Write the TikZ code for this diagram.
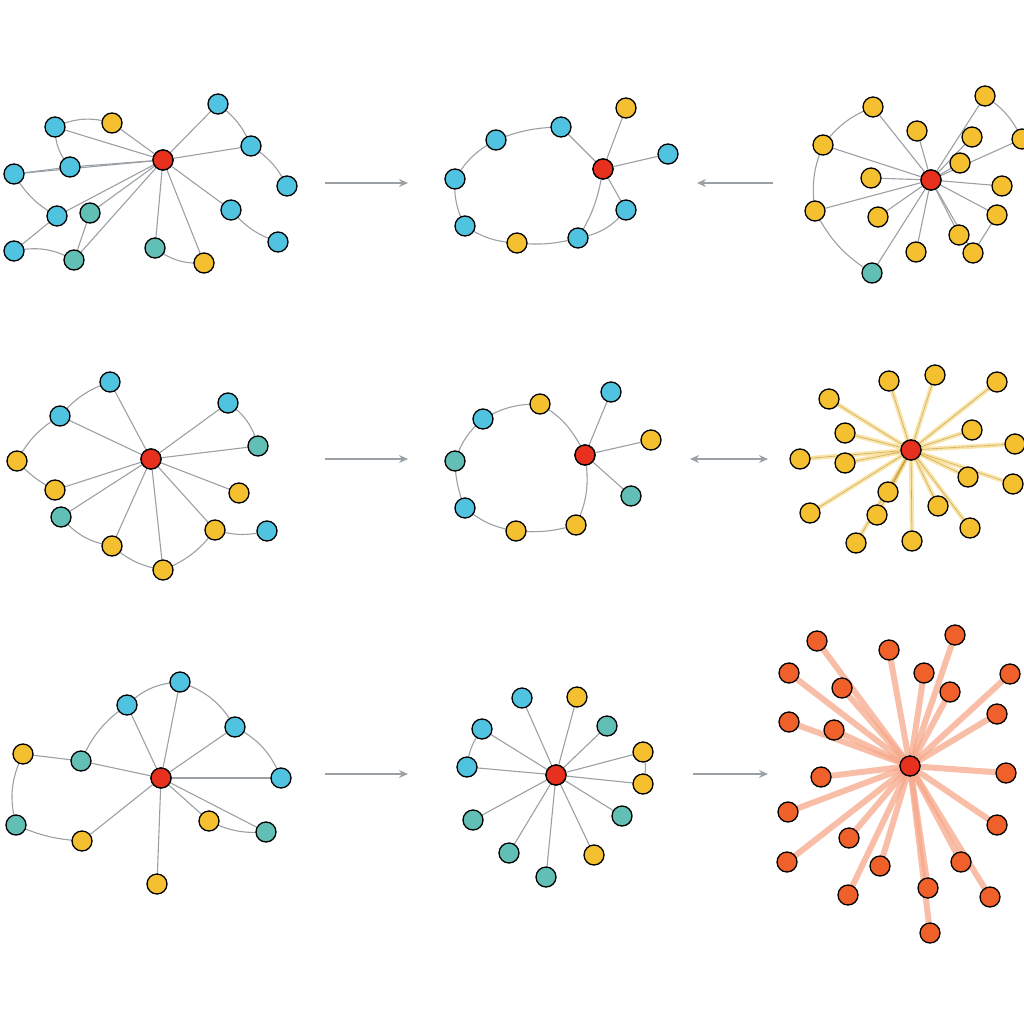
\documentclass[tikz,border=0pt]{standalone}
\usetikzlibrary{arrows.meta}
\definecolor{cb}{HTML}{4FC3E0}
\definecolor{cy}{HTML}{F5C030}
\definecolor{ct}{HTML}{62BFB5}
\definecolor{cr}{HTML}{E8301E}
\definecolor{co}{HTML}{F0602A}
\definecolor{ce}{HTML}{9AA0A4}
\tikzset{dot/.style={circle,draw=black,line width=1.3pt,minimum size=20pt,inner sep=0pt},
 hub/.style={dot,fill=cr},
 ed/.style={draw=ce,line width=1.1pt},
 tan/.style={draw=cy!60!white,line width=4.5pt,opacity=0.7},
 thk/.style={draw=co!55!white,line width=6pt,opacity=0.75},
 arr/.style={draw=ce,line width=1.2pt,-{Stealth[length=9pt,width=8pt]}},
 darr/.style={draw=ce,line width=1.2pt,{Stealth[length=9pt,width=8pt]}-{Stealth[length=9pt,width=8pt]}}}
\begin{document}
\begin{tikzpicture}[x=1pt,y=-1pt]
\useasboundingbox (0,0) rectangle (1024,1024);
% ---- panel 1
\node[hub] (c1) at (163,160) {};
\foreach \x/\y [count=\i] in {55/127,112/123,218/104,70/167,14/174,251/146,287/186,57/216,90/213,231/210,278/242,14/251,74/260,155/248,204/263}
 {\coordinate (a\i) at (\x,\y);}
\foreach \i in {1,2,3,4,5,6,8,9,10,13,14,15} {\draw[ed] (c1) -- (a\i);}
\draw[ed] (a1) to[bend right=20] (a4); \draw[ed] (a4) -- (a5); \draw[ed] (a5) to[bend right=15] (a8);
\draw[ed] (a8) -- (a12); \draw[ed] (a12) to[bend left=20] (a13); \draw[ed] (a9) -- (a13);
\draw[ed] (a3) to[bend left=15] (a6); \draw[ed] (a6) to[bend left=15] (a7); \draw[ed] (a10) to[bend right=15] (a11);
\draw[ed] (a14) to[bend right=20] (a15); \draw[ed] (a1) to[bend left=20] (a2);
\foreach \i/\c in {1/cb,2/cy,3/cb,4/cb,5/cb,6/cb,7/cb,8/cb,9/ct,10/cb,11/cb,12/cb,13/ct,14/ct,15/cy}
 {\node[dot,fill=\c] (an\i) at (a\i) {};}
\node[hub] at (c1) {};
\draw[arr] (325,183) -- (408,183);
% ---- panel 2
\foreach \x/\y [count=\i] in {455/179,496/140,561/127,626/108,668/154,626/210,578/238,517/243,465/226}
 {\coordinate (b\i) at (\x,\y);}
\node[hub] (c2) at (603,169) {};
\draw[ed] (b1) to[bend left=15] (b2); \draw[ed] (b2) to[bend left=10] (b3);
\draw[ed] (b1) to[bend right=15] (b9); \draw[ed] (b9) to[bend right=15] (b8); \draw[ed] (b8) to[bend right=10] (b7);
\draw[ed] (b7) to[bend right=20] (b6);
\foreach \i in {3,4,5,6} {\draw[ed] (c2) -- (b\i);}
\draw[ed] (c2) to[bend left=10] (b7);
\foreach \i/\c in {1/cb,2/cb,3/cb,4/cy,5/cb,6/cb,7/cb,8/cy,9/cb} {\node[dot,fill=\c] (bn\i) at (b\i) {};}
\node[hub] at (c2) {};
\draw[arr] (773,183) -- (697,183);
% ---- panel 3
\node[hub] (c3) at (931,180) {};
\foreach \x/\y [count=\i] in {873/107,985/96,917/131,972/137,1022/139,823/145,960/163,871/178,1002/186,815/211,878/217,997/215,959/235,916/252,973/253,872/273}
 {\coordinate (d\i) at (\x,\y); \draw[ed] (c3) -- (d\i);}
\draw[ed] (d1) to[bend right=15] (d6); \draw[ed] (d6) to[bend right=15] (d10); \draw[ed] (d10) to[bend right=15] (d16);
\draw[ed] (d2) to[bend left=15] (d5); \draw[ed] (d12) -- (d15);
\foreach \i in {1,...,15} {\node[dot,fill=cy] (dn\i) at (d\i) {};}
\node[dot,fill=ct] (dn16) at (d16) {};
\node[hub] at (c3) {};
% ---- panel 4
\node[hub] (c4) at (151,459) {};
\foreach \x/\y [count=\i] in {110/382,60/416,228/403,258/446,17/461,239/493,55/490,61/517,215/530,267/531,112/546,163/570}
 {\coordinate (e\i) at (\x,\y);}
\foreach \i in {1,2,3,4,6,7,8,9,11,12} {\draw[ed] (c4) -- (e\i);}
\draw[ed] (e2) to[bend left=15] (e1); \draw[ed] (e2) to[bend right=15] (e5); \draw[ed] (e5) to[bend right=10] (e7);
\draw[ed] (e8) to[bend right=20] (e11); \draw[ed] (e11) to[bend right=15] (e12); \draw[ed] (e3) to[bend left=20] (e4);
\draw[ed] (e9) to[bend right=15] (e10); \draw[ed] (e12) to[bend right=15] (e9);
\foreach \i/\c in {1/cb,2/cb,3/cb,4/ct,5/cy,6/cy,7/cy,8/ct,9/cy,10/cb,11/cy,12/cy} {\node[dot,fill=\c] (en\i) at (e\i) {};}
\node[hub] at (c4) {};
\draw[arr] (325,459) -- (408,459);
% ---- panel 5
\node[hub] (c5) at (585,455) {};
\foreach \x/\y [count=\i] in {483/419,540/404,611/392,651/440,455/461,631/496,465/508,516/531,576/525}
 {\coordinate (f\i) at (\x,\y);}
\draw[ed] (f1) to[bend left=15] (f2); \draw[ed] (f2) to[bend left=15] (c5); \draw[ed] (f1) to[bend right=15] (f5);
\draw[ed] (f5) to[bend right=10] (f7); \draw[ed] (f7) to[bend right=15] (f8); \draw[ed] (f8) to[bend right=10] (f9);
\draw[ed] (f9) to[bend right=15] (c5);
\foreach \i in {3,4,6} {\draw[ed] (c5) -- (f\i);}
\foreach \i/\c in {1/cb,2/cy,3/cb,4/cy,5/ct,6/ct,7/cb,8/cy,9/cy} {\node[dot,fill=\c] (fn\i) at (f\i) {};}
\node[hub] at (c5) {};
\draw[darr] (690,459) -- (768,459);
% ---- panel 6
\node[hub] (c6) at (911,450) {};
\foreach \x/\y [count=\i] in {889/381,935/375,997/382,829/399,845/433,972/430,1015/444,800/459,845/463,1013/484,968/477,888/492,938/506,810/513,877/515,970/528,856/543,912/541}
 {\coordinate (g\i) at (\x,\y); \draw[tan] (c6) -- (g\i);}
\foreach \i in {1,...,18} {\draw[draw=cy!60!black,line width=0.6pt,opacity=0.5] (c6) -- (g\i);}
\foreach \i in {1,...,18} {\node[dot,fill=cy] (gn\i) at (g\i) {};}
\node[hub] at (c6) {};
% ---- panel 7
\node[hub] (c7) at (161,778) {};
\foreach \x/\y [count=\i] in {180/682,127/705,235/727,81/761,23/754,281/778,16/825,82/841,209/821,266/832,157/884}
 {\coordinate (h\i) at (\x,\y);}
\foreach \i in {1,2,3,4,6,8,9,10,11} {\draw[ed] (c7) -- (h\i);}
\draw[ed] (h2) to[bend left=20] (h1); \draw[ed] (h2) to[bend right=15] (h4); \draw[ed] (h4) -- (h5);
\draw[ed] (h5) to[bend right=20] (h7); \draw[ed] (h7) to[bend right=10] (h8); \draw[ed] (h1) to[bend left=20] (h3);
\draw[ed] (h3) to[bend left=20] (h6); \draw[ed] (h9) to[bend right=15] (h10);
\foreach \i/\c in {1/cb,2/cb,3/cb,4/ct,5/cy,6/cb,7/ct,8/cy,9/cy,10/ct,11/cy} {\node[dot,fill=\c] (hn\i) at (h\i) {};}
\node[hub] at (c7) {};
\draw[arr] (325,774) -- (408,774);
% ---- panel 8
\node[hub] (c8) at (556,775) {};
\foreach \x/\y [count=\i] in {522/698,577/697,482/729,607/726,643/752,467/767,643/784,473/820,622/816,509/853,594/855,546/877}
 {\coordinate (k\i) at (\x,\y); \draw[ed] (c8) -- (k\i);}
\draw[ed] (k3) to[bend right=15] (k6); \draw[ed] (k5) to[bend left=15] (k7);
\foreach \i/\c in {1/cb,2/cy,3/cb,4/ct,5/cy,6/cb,7/cy,8/ct,9/ct,10/ct,11/cy,12/ct} {\node[dot,fill=\c] (kn\i) at (k\i) {};}
\node[hub] at (c8) {};
\draw[arr] (693,774) -- (768,774);
% ---- panel 9
\node[hub] (c9) at (910,766) {};
\foreach \x/\y [count=\i] in {817/641,889/650,955/635,789/673,842/688,924/673,950/692,1010/674,789/722,834/730,997/714,821/777,1006/773,788/812,849/838,997/825,787/862,880/866,961/862,848/895,928/888,990/897,930/933}
 {\coordinate (m\i) at (\x,\y); \draw[thk] (c9) -- (m\i);}
\foreach \i in {1,...,23} {\node[dot,fill=co] (mn\i) at (m\i) {};}
\node[hub] at (c9) {};
\end{tikzpicture}
\end{document}
